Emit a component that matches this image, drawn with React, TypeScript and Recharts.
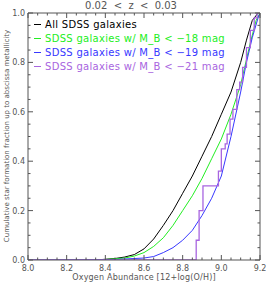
import React from 'react';
import { Line, LineChart, XAxis, YAxis } from 'recharts';

// cumulative curves
const allX = [8.0, 8.35, 8.45, 8.5, 8.55, 8.6, 8.65, 8.7, 8.75, 8.8, 8.85, 8.9, 8.95, 9.0, 9.05, 9.1, 9.13, 9.16, 9.19];
const allY = [0, 0, 0.006, 0.012, 0.022, 0.045, 0.085, 0.14, 0.2, 0.27, 0.34, 0.42, 0.5, 0.59, 0.68, 0.8, 0.89, 0.97, 1.0];

const m18X = [8.0, 8.4, 8.5, 8.55, 8.6, 8.65, 8.7, 8.75, 8.8, 8.85, 8.9, 8.95, 9.0, 9.05, 9.1, 9.15, 9.18, 9.2];
const m18Y = [0, 0.002, 0.008, 0.016, 0.03, 0.055, 0.09, 0.14, 0.2, 0.26, 0.33, 0.41, 0.49, 0.59, 0.71, 0.88, 0.97, 1.0];

const m19X = [8.0, 8.45, 8.5, 8.6, 8.65, 8.7, 8.75, 8.8, 8.85, 8.9, 8.95, 9.0, 9.05, 9.1, 9.13, 9.16, 9.19, 9.2];
const m19Y = [0, 0.002, 0.004, 0.008, 0.014, 0.03, 0.05, 0.08, 0.12, 0.18, 0.25, 0.34, 0.5, 0.68, 0.8, 0.9, 0.98, 1.0];

const m21X = [8.0, 8.87, 8.885, 8.905, 8.985, 9.0, 9.02, 9.03, 9.045, 9.06, 9.08, 9.095, 9.11, 9.13, 9.15, 9.17, 9.185, 9.2];
const m21Y = [0, 0.08, 0.2, 0.3, 0.36, 0.45, 0.47, 0.51, 0.57, 0.61, 0.69, 0.72, 0.78, 0.86, 0.93, 0.98, 1.0, 1.0];

const legendNames = [
  'All SDSS galaxies',
  'SDSS galaxies w/ M_B < \u221218 mag',
  'SDSS galaxies w/ M_B < \u221219 mag',
  'SDSS galaxies w/ M_B < \u221221 mag',
];
const colors = ['#000000', '#22ee22', '#3838ff', '#a865e0'];

const pts = (xs: number[], ys: number[]) => xs.map((x, i) => ({ x, y: ys[i] }));

const minorTicks = (lo: number, hi: number, step: number) => {
  const out: number[] = [];
  for (let v = lo; v <= hi + 1e-9; v += step) out.push(Math.round(v * 1000) / 1000);
  return out;
};
const xTicks = minorTicks(8.0, 9.2, 0.05);
const yTicks = minorTicks(0, 1, 0.05);

const isMajor = (v: number) => Math.abs(v * 5 - Math.round(v * 5)) < 1e-6;

const AX = '#555';
const FONT = '"DejaVu Sans", sans-serif';

const makeTick = (side: string) => (props: any) => {
  const { x, y, payload } = props;
  const v = payload.value;
  const len = isMajor(v) ? 5 : 2.5;
  let line;
  if (side === 'bottom') line = <line x1={x} y1={y} x2={x} y2={y - len} stroke={AX} />;
  else if (side === 'top') line = <line x1={x} y1={y} x2={x} y2={y + len} stroke={AX} />;
  else if (side === 'left') line = <line x1={x} y1={y} x2={x + len} y2={y} stroke={AX} />;
  else line = <line x1={x} y1={y} x2={x - len} y2={y} stroke={AX} />;
  let label = null;
  if (isMajor(v) && side === 'bottom')
    label = <text x={x} y={y + 11} textAnchor="middle" fontSize={8} fill={AX} fontFamily={FONT}>{v.toFixed(1)}</text>;
  if (isMajor(v) && side === 'left')
    label = <text x={x - 3} y={y + 3} textAnchor="end" fontSize={8} fill={AX} fontFamily={FONT}>{v.toFixed(1)}</text>;
  return <g>{line}{label}</g>;
};

export default function App() {
  const series = [pts(allX, allY), pts(m18X, m18Y), pts(m19X, m19Y), pts(m21X, m21Y)];
  return (
    <div style={{ position: 'absolute', left: 0, top: 0, width: 266, height: 285, background: '#fff', fontFamily: FONT }}>
      <LineChart width={266} height={285} margin={{ top: 12, right: 5, bottom: 24, left: 27 }}>
        <XAxis xAxisId="b" dataKey="x" type="number" domain={[8.0, 9.2]} ticks={xTicks} interval={0} height={1}
               tickSize={0} tickMargin={0} tickLine={false} axisLine={{ stroke: AX }} tick={makeTick('bottom')} allowDataOverflow/>
        <XAxis xAxisId="t" orientation="top" dataKey="x" type="number" domain={[8.0, 9.2]} ticks={xTicks} interval={0} height={1}
               tickSize={0} tickMargin={0} tickLine={false} axisLine={{ stroke: AX }} tick={makeTick('top')} allowDataOverflow/>
        <YAxis yAxisId="l" dataKey="y" type="number" domain={[0, 1]} ticks={yTicks} interval={0} width={1}
               tickSize={0} tickMargin={0} tickLine={false} axisLine={{ stroke: AX }} tick={makeTick('left')} allowDataOverflow/>
        <YAxis yAxisId="r" orientation="right" dataKey="y" type="number" domain={[0, 1]} ticks={yTicks} interval={0} width={1}
               tickSize={0} tickMargin={0} tickLine={false} axisLine={{ stroke: AX }} tick={makeTick('right')} allowDataOverflow/>
        {series.map((d, i) => (
          <Line key={i} xAxisId="b" yAxisId="l" data={d} dataKey="y" type={i === 3 ? 'stepAfter' : 'linear'}
                stroke={colors[i]} strokeWidth={i === 3 ? 1.3 : 1} dot={false} isAnimationActive={false}/>
        ))}
        <Line xAxisId="t" yAxisId="r" data={series[0]} dataKey="y" stroke="none" dot={false} isAnimationActive={false} legendType="none"/>
      </LineChart>
      <div style={{ position: 'absolute', left: 131, top: 0, transform: 'translateX(-50%)', fontSize: 10, color: AX, whiteSpace: 'pre', lineHeight: '12px' }}>
        {'0.02  <  z  <  0.03'}
      </div>
      <div style={{ position: 'absolute', left: 144, top: 273, transform: 'translateX(-50%)', fontSize: 8, color: AX, whiteSpace: 'nowrap', lineHeight: '10px', letterSpacing: 0.2 }}>
        Oxygen Abundance [12+log(O/H)]
      </div>
      <div style={{ position: 'absolute', left: 7, top: 136, transform: 'translate(-50%,-50%) rotate(-90deg)', fontSize: 7, color: AX, whiteSpace: 'nowrap', lineHeight: '9px' }}>
        Cumulative star formation fraction up to abscissa metallicity
      </div>
      <div style={{ position: 'absolute', left: 34, top: 17 }}>
        {legendNames.map((n, i) => (
          <div key={n} style={{ display: 'flex', alignItems: 'center', height: 14, fontSize: 10, color: colors[i], whiteSpace: 'pre', letterSpacing: 0.3 }}>
            <span style={{ display: 'inline-block', width: 7, height: 1, background: colors[i], marginRight: 4 }}/>
            {n}
          </div>
        ))}
      </div>
    </div>
  );
}
